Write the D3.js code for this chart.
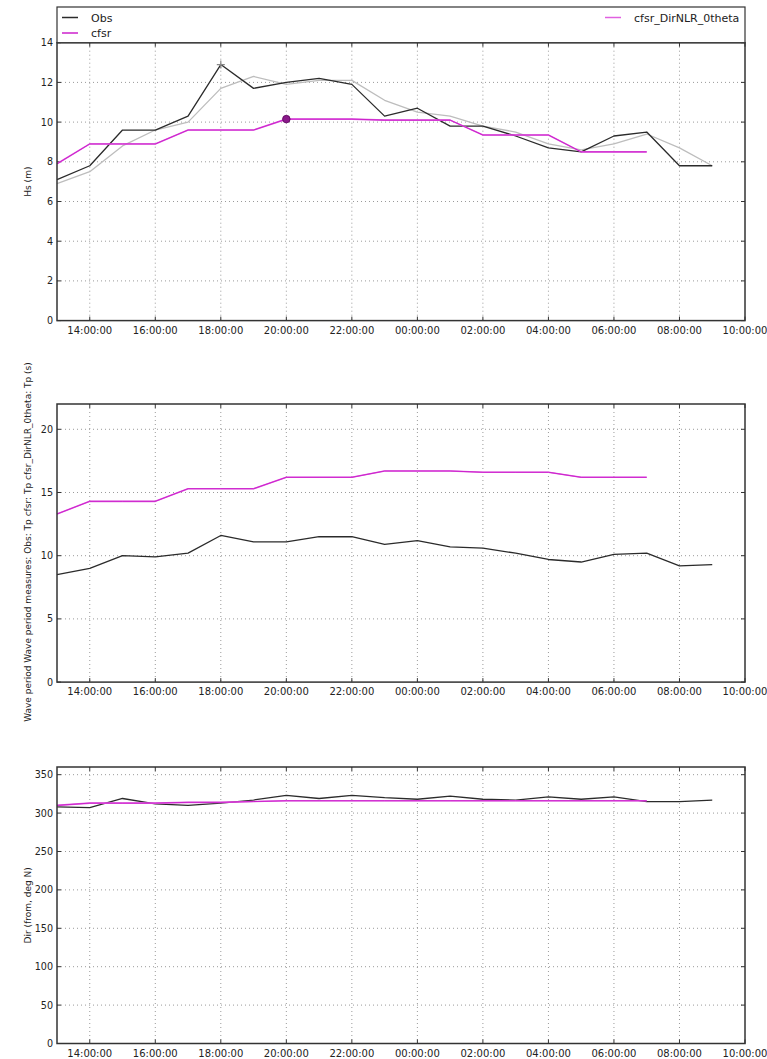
<!DOCTYPE html>
<html>
<head>
<meta charset="utf-8">
<script src="https://cdn.jsdelivr.net/npm/d3@7"></script>
<style>
  html, body { margin: 0; padding: 0; background: #fff; }
  svg { display: block; font-family: "DejaVu Sans", sans-serif; }
</style>
</head>
<body>
<svg id="chart" width="767" height="1059"></svg>
<script>
// Hourly time stamps (13:00 on day one through 09:00 the next morning)
const hours = ["13:00","14:00","15:00","16:00","17:00","18:00","19:00","20:00","21:00","22:00",
               "23:00","00:00","01:00","02:00","03:00","04:00","05:00","06:00","07:00","08:00","09:00"];

// Significant wave height (m)
const hsObs   = [7.1, 7.8, 9.6, 9.6, 10.3, 12.9, 11.7, 12.0, 12.2, 11.9, 10.3, 10.7, 9.8, 9.8, 9.3, 8.7, 8.5, 9.3, 9.5, 7.8, 7.8];
const hsTrend = [6.9, 7.5, 8.8, 9.6, 10.0, 11.7, 12.3, 11.9, 12.1, 12.1, 11.1, 10.5, 10.3, 9.8, 9.5, 8.9, 8.6, 8.9, 9.4, 8.7, 7.8];
const hsCfsr  = [7.9, 8.9, 8.9, 8.9, 9.6, 9.6, 9.6, 10.15, 10.15, 10.15, 10.1, 10.1, 10.1, 9.35, 9.35, 9.35, 8.5, 8.5, 8.5];
const hsNlr   = [7.9, 8.9, 8.9, 8.9, 9.6, 9.6, 9.6, 10.15, 10.15, 10.15, 10.1, 10.1, 10.1, 9.35, 9.35, 9.35, 8.5, 8.5, 8.5];

// Peak wave period (s)
const tpObs  = [8.5, 9.0, 10.0, 9.9, 10.2, 11.6, 11.1, 11.1, 11.5, 11.5, 10.9, 11.2, 10.7, 10.6, 10.2, 9.7, 9.5, 10.1, 10.2, 9.2, 9.3];
const tpCfsr = [13.3, 14.3, 14.3, 14.3, 15.3, 15.3, 15.3, 16.2, 16.2, 16.2, 16.7, 16.7, 16.7, 16.6, 16.6, 16.6, 16.2, 16.2, 16.2];
const tpNlr  = [13.3, 14.3, 14.3, 14.3, 15.3, 15.3, 15.3, 16.2, 16.2, 16.2, 16.7, 16.7, 16.7, 16.6, 16.6, 16.6, 16.2, 16.2, 16.2];

// Mean direction (from, deg N)
const dirObs  = [308, 307, 319, 312, 310, 313, 317, 323, 319, 323, 320, 318, 322, 318, 317, 321, 318, 321, 315, 315, 317];
const dirCfsr = [310, 313, 313, 313, 314, 314, 315, 316, 316, 316, 316, 316, 316, 316, 316, 316, 316, 316, 316];
const dirNlr  = [310, 313, 313, 313, 314, 314, 315, 316, 316, 316, 316, 316, 316, 316, 316, 316, 316, 316, 316];

// Axis settings
const xStart = "13:00", xEnd = "10:00";
const hsTicks  = [0, 2, 4, 6, 8, 10, 12, 14];
const tpTicks  = [0, 5, 10, 15, 20];
const dirTicks = [0, 50, 100, 150, 200, 250, 300, 350];
const seriesNames = ["Obs", "cfsr", "cfsr_DirNLR_0theta"];

const colObs = "#2b2b2b", colCfsr = "#cc22cc", colNlr = "#e060e0", colTrend = "#bdbdbd";

// Convert "HH:MM" into a Date; morning hours belong to the following day
function toDate(s) {
  const [h, m] = s.split(":").map(Number);
  return new Date(Date.UTC(2000, 0, h < 12 ? 2 : 1, h, m));
}
const times = hours.map(toDate);

const svg = d3.select("#chart");
const plotLeft = 57, plotRight = 745;
const x = d3.scaleUtc().domain([toDate(xStart), toDate(xEnd)]).range([plotLeft, plotRight]);
const xTickVals = d3.utcHour.every(2).range(toDate("14:00"), new Date(+toDate(xEnd) + 1));
const fmt = d3.utcFormat("%H:%M:%S");

function panel(cfg) {
  const y = d3.scaleLinear().domain(cfg.domain).range([cfg.bottom, cfg.top]);
  const g = svg.append("g");

  // grid
  g.append("g").selectAll("line").data(xTickVals.filter(d => x(d) < plotRight - 1)).join("line")
    .attr("x1", d => x(d)).attr("x2", d => x(d))
    .attr("y1", cfg.top).attr("y2", cfg.bottom)
    .attr("stroke", "#9a9a9a").attr("stroke-width", 1).attr("stroke-dasharray", "1,3");
  g.append("g").selectAll("line").data(cfg.ticks.filter(t => t > cfg.domain[0] && t < cfg.domain[1])).join("line")
    .attr("x1", plotLeft).attr("x2", plotRight)
    .attr("y1", d => y(d)).attr("y2", d => y(d))
    .attr("stroke", "#9a9a9a").attr("stroke-width", 1).attr("stroke-dasharray", "1,3");

  // inward ticks on all four sides
  const tk = g.append("g").attr("stroke", "#333").attr("stroke-width", 1);
  xTickVals.forEach(d => {
    tk.append("line").attr("x1", x(d)).attr("x2", x(d)).attr("y1", cfg.bottom).attr("y2", cfg.bottom - 4);
    tk.append("line").attr("x1", x(d)).attr("x2", x(d)).attr("y1", cfg.top).attr("y2", cfg.top + 4);
  });
  cfg.ticks.forEach(d => {
    tk.append("line").attr("x1", plotLeft).attr("x2", plotLeft + 4).attr("y1", y(d)).attr("y2", y(d));
    tk.append("line").attr("x1", plotRight).attr("x2", plotRight - 4).attr("y1", y(d)).attr("y2", y(d));
  });

  // tick labels
  g.append("g").selectAll("text").data(xTickVals).join("text")
    .attr("x", d => x(d)).attr("y", cfg.bottom + 13)
    .attr("text-anchor", "middle").attr("font-size", 10).attr("fill", "#222")
    .text(d => fmt(d));
  g.append("g").selectAll("text").data(cfg.ticks).join("text")
    .attr("x", plotLeft - 4).attr("y", d => y(d) + 3.5)
    .attr("text-anchor", "end").attr("font-size", 9.6).attr("fill", "#222")
    .text(d => d);

  // y label
  const cy = cfg.labelY !== undefined ? cfg.labelY : (cfg.top + cfg.bottom) / 2;
  g.append("text")
    .attr("transform", `translate(${cfg.labelX},${cy}) rotate(-90)`)
    .attr("text-anchor", "middle").attr("font-size", 9).attr("fill", "#222")
    .text(cfg.label);

  // series
  const line = d3.line().x(d => x(d[0])).y(d => y(d[1]));
  const plot = g.append("g");
  cfg.series.forEach(s => {
    const pts = s.values.map((v, i) => [times[i], v]);
    plot.append("path").datum(pts).attr("d", line)
      .attr("fill", "none").attr("stroke", s.color).attr("stroke-width", s.width || 1.3)
      .attr("stroke-linejoin", "round");
  });

  // frame
  g.append("rect").attr("x", plotLeft).attr("y", cfg.top)
    .attr("width", plotRight - plotLeft).attr("height", cfg.bottom - cfg.top)
    .attr("fill", "none").attr("stroke", "#333").attr("stroke-width", 1.5);

  return { y, g: plot };
}

// Top: wave height
const hsPanel = panel({
  top: 42.7, bottom: 320.6, domain: [0, 14], ticks: hsTicks,
  label: "Hs (m)", labelX: 31,
  series: [
    { values: hsTrend, color: colTrend, width: 1.3 },
    { values: hsObs, color: colObs },
    { values: hsNlr, color: colNlr, width: 1.6 },
    { values: hsCfsr, color: colCfsr, width: 1.0 }
  ]
});

// Peak markers on the wave height panel
const iObsMax = hsObs.indexOf(d3.max(hsObs));
const pkX = x(times[iObsMax]), pkY = hsPanel.y(hsObs[iObsMax]);
hsPanel.g.append("path").attr("d", `M${pkX - 4},${pkY}H${pkX + 4}M${pkX},${pkY - 4}V${pkY + 4}`)
  .attr("stroke", "#888").attr("stroke-width", 1.2);
const iCfsrMax = hsCfsr.indexOf(d3.max(hsCfsr));
hsPanel.g.append("circle").attr("cx", x(times[iCfsrMax])).attr("cy", hsPanel.y(hsCfsr[iCfsrMax]))
  .attr("r", 3.8).attr("fill", "#8a1a8a").attr("stroke", "#5a005a").attr("stroke-width", 0.8);

// Legend above the top panel
const lg = svg.append("g");
lg.append("rect").attr("x", plotLeft).attr("y", 7).attr("width", plotRight - plotLeft).attr("height", 35.7)
  .attr("fill", "#fff").attr("stroke", "#333").attr("stroke-width", 1.2);
const legendItems = [
  { name: seriesNames[0], color: colObs, lx: 62, ty: 17.5 },
  { name: seriesNames[1], color: colCfsr, lx: 62, ty: 33 },
  { name: seriesNames[2], color: colNlr, lx: 605, ty: 17.5 }
];
legendItems.forEach(it => {
  lg.append("line").attr("x1", it.lx).attr("x2", it.lx + 16).attr("y1", it.ty).attr("y2", it.ty)
    .attr("stroke", it.color).attr("stroke-width", 1.5);
  lg.append("text").attr("x", it.lx + 29).attr("y", it.ty + 4).attr("font-size", 11).attr("fill", "#222")
    .text(it.name);
});

// Middle: peak period
panel({
  top: 404, bottom: 682.1, domain: [0, 22], ticks: tpTicks,
  label: "Wave period Wave period measures: Obs: Tp cfsr: Tp cfsr_DirNLR_0theta: Tp (s)",
  labelX: 30.5, labelY: 542,
  series: [
    { values: tpObs, color: colObs },
    { values: tpNlr, color: colNlr, width: 1.6 },
    { values: tpCfsr, color: colCfsr, width: 1.0 }
  ]
});

// Bottom: direction
panel({
  top: 767, bottom: 1043.5, domain: [0, 360], ticks: dirTicks,
  label: "Dir (from, deg N)", labelX: 30.5,
  series: [
    { values: dirObs, color: colObs },
    { values: dirNlr, color: colNlr, width: 1.6 },
    { values: dirCfsr, color: colCfsr, width: 1.0 }
  ]
});
</script>
</body>
</html>
